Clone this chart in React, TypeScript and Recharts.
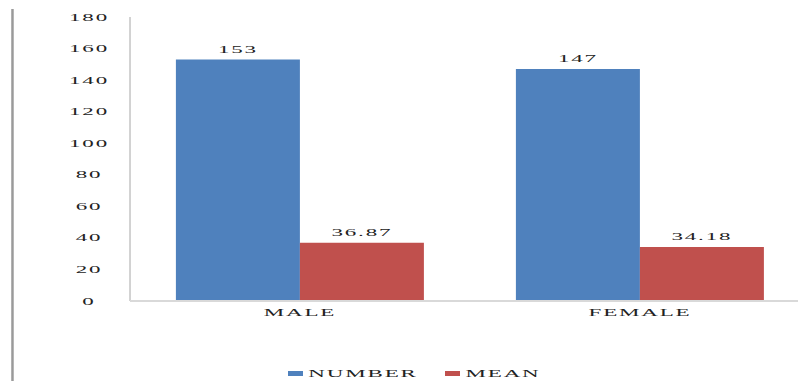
import { BarChart, Bar, XAxis, YAxis, LabelList } from 'recharts';

const categories = ['MALE', 'FEMALE'];
const numberValues = [153, 147];
const meanValues = [36.87, 34.18];
const yTicks = [0, 20, 40, 60, 80, 100, 120, 140, 160, 180];

const BLUE = '#4F81BD';
const RED = '#C0504D';
const FONT = '"Liberation Serif", "Times New Roman", serif';

const data = categories.map((c, i) => ({
  name: c,
  number: numberValues[i],
  mean: meanValues[i],
}));

// wide, stretched serif text like the old office export
function WideText({ x, y, children, size = 10, sx = 2.3, spacing = 0.8 }: any) {
  return (
    <text
      transform={`translate(${x},${y}) scale(${sx},1)`}
      textAnchor="middle"
      fontFamily={FONT}
      fontSize={size}
      letterSpacing={spacing}
      fill="#222"
    >
      {children}
    </text>
  );
}

const YTick = ({ y, payload }: any) => (
  <WideText x={89} y={y + 3.5}>{payload.value}</WideText>
);

const XTick = ({ x, payload }: any) => (
  <WideText x={x} y={316}>{payload.value}</WideText>
);

const ValueLabel = ({ x, y, width, value }: any) => (
  <WideText x={x + width / 2} y={y - 7}>{String(value)}</WideText>
);

export default function App() {
  return (
    <div style={{ position: 'absolute', left: 0, top: 0, width: 798, height: 381, overflow: 'hidden', background: '#fff' }}>
      <div style={{ position: 'absolute', left: 11, top: 9, width: 3, bottom: 0, background: 'linear-gradient(to right, #bdbdbd, #9a9a9a, #c4c4c4)' }} />
      <BarChart
        width={830}
        height={381}
        data={data}
        margin={{ top: 17, right: 20, bottom: 50, left: 0 }}
        barCategoryGap="13.5%"
        barGap={0}
      >
        <YAxis
          domain={[0, 180]}
          ticks={yTicks}
          width={130}
          tick={<YTick />}
          tickLine={false}
          axisLine={{ stroke: '#a6a6a6' }}
        />
        <XAxis
          dataKey="name"
          height={30}
          tick={<XTick />}
          tickLine={false}
          axisLine={{ stroke: '#d9d9d9', strokeWidth: 2 }}
        />
        <Bar dataKey="number" fill={BLUE} isAnimationActive={false}>
          <LabelList dataKey="number" content={<ValueLabel />} />
        </Bar>
        <Bar dataKey="mean" fill={RED} isAnimationActive={false}>
          <LabelList dataKey="mean" content={<ValueLabel />} />
        </Bar>
      </BarChart>
      <svg style={{ position: 'absolute', left: 0, top: 362 }} width={798} height={19}>
        <rect x={288} y={9} width={15} height={5} fill={BLUE} />
        <WideText x={363} y={15}>NUMBER</WideText>
        <rect x={445} y={9} width={15} height={5} fill={RED} />
        <WideText x={503} y={15}>MEAN</WideText>
      </svg>
    </div>
  );
}
